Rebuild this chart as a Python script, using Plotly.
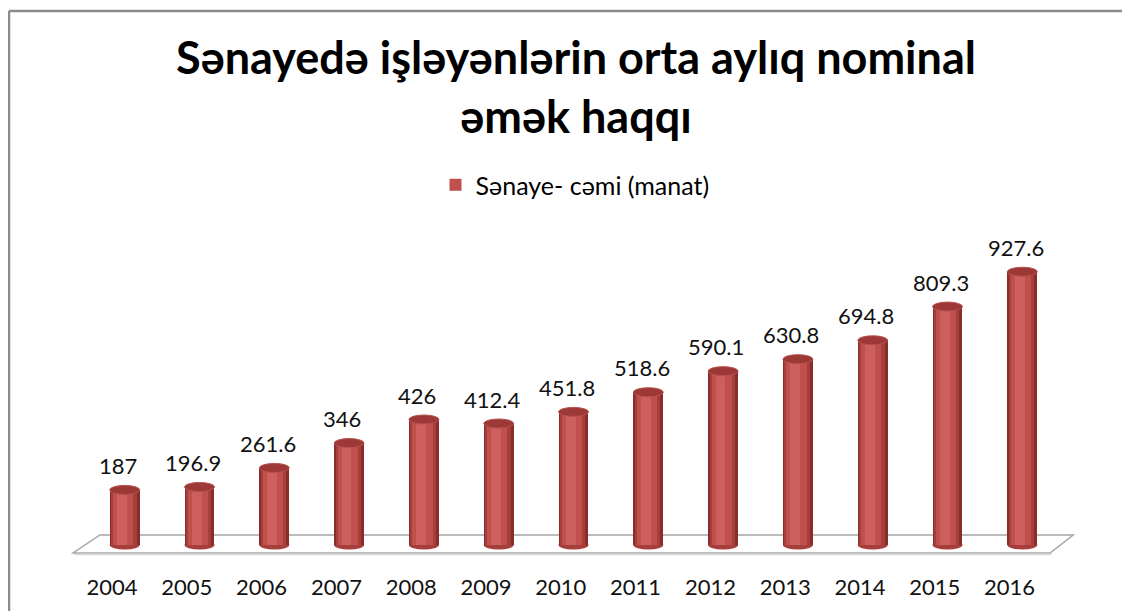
import plotly.graph_objects as go

# ---- data ----
years = ["2004", "2005", "2006", "2007", "2008", "2009", "2010",
         "2011", "2012", "2013", "2014", "2015", "2016"]
values = [187, 196.9, 261.6, 346, 426, 412.4, 451.8,
          518.6, 590.1, 630.8, 694.8, 809.3, 927.6]
value_labels = ["187", "196.9", "261.6", "346", "426", "412.4", "451.8",
                "518.6", "590.1", "630.8", "694.8", "809.3", "927.6"]
series_name = "Sənaye- cəmi (manat)"
title_text = "Sənayedə işləyənlərin orta aylıq nominal<br>əmək haqqı"

# ---- layout constants (screen pixels; page body adds an 8px offset) ----
W, H = 1130, 611
OFF = 8
PLOT_LEFT, PLOT_RIGHT, PLOT_TOP, PLOT_BOTTOM = 52, 1085, 220, 572
L = PLOT_LEFT - OFF
R = W - (PLOT_RIGHT - OFF)
T = PLOT_TOP - OFF
B = H - (PLOT_BOTTOM - OFF)
plot_w = PLOT_RIGHT - PLOT_LEFT
plot_h = PLOT_BOTTOM - PLOT_TOP
PX_X = 74.8          # px per category
PX_Y = 0.2946        # px per unit of value
X0_PX = 112          # screen pixel of first category
ZERO_PX = 545        # screen pixel of value zero

xmin = -(X0_PX - PLOT_LEFT) / PX_X
xmax = xmin + plot_w / PX_X
ymin = -(PLOT_BOTTOM - ZERO_PX) / PX_Y
ymax = (ZERO_PX - PLOT_TOP) / PX_Y

def px_to_paper_x(p):
    return (p - PLOT_LEFT) / plot_w

def px_to_paper_y(p):
    return (PLOT_BOTTOM - p) / plot_h

n = len(years)
idx = list(range(n))
BAR_OFF = 0.17       # 3D offset of cylinders
BAR_W = 0.40
xc = [i + BAR_OFF for i in idx]

FONT = "Lato"

fig = go.Figure()

# cylinder shading layers (outer dark -> inner light)
layers = [
    (BAR_W, 0.0, "#8a2c2a", False),
    (0.34, -0.01, "#a63e3b", False),
    (0.27, -0.02, "#c0504d", True),
    (0.13, -0.035, "#cd5f5c", False),
]
for w, dx, col, show in layers:
    fig.add_trace(go.Bar(
        x=[c + dx for c in xc], y=values, width=w,
        marker=dict(color=col, line=dict(width=0)),
        name=series_name, showlegend=show, legendgroup="s",
        hoverinfo="skip" if not show else None,
    ))

shapes = []
# floor (parallelogram)
fl_front = -8 / PX_Y
fl_back = 10 / PX_Y
fx0, fx1 = -0.52, n - 1 + 0.54
shapes.append(dict(
    type="path", xref="x", yref="y", layer="below",
    path=(f"M {fx0} {fl_front} L {fx1} {fl_front} "
          f"L {fx1 + 0.31} {fl_back} L {fx0 + 0.36} {fl_back} Z"),
    fillcolor="white", line=dict(color="#a6a6a6", width=1.5),
))
shapes.append(dict(
    type="line", xref="x", yref="y", layer="below",
    x0=fx0 + 0.02, x1=fx1 + 0.02, y0=fl_front - 1.5 / PX_Y, y1=fl_front - 1.5 / PX_Y,
    line=dict(color="#d9d9d9", width=1.5),
))

eh = 4.5 / PX_Y  # half height of ellipse in data units
for c, v in zip(xc, values):
    # rounded bottom
    shapes.append(dict(type="circle", xref="x", yref="y", layer="below",
                       x0=c - BAR_W / 2, x1=c + BAR_W / 2, y0=-eh, y1=eh,
                       fillcolor="#a63e3b", line=dict(width=0)))
    # top ellipse
    shapes.append(dict(type="circle", xref="x", yref="y", layer="above",
                       x0=c - BAR_W / 2, x1=c + BAR_W / 2, y0=v - eh, y1=v + eh,
                       fillcolor="#9c3936", line=dict(color="#b5514e", width=1)))

# outer border of the chart frame
bx = px_to_paper_x(9)
by = px_to_paper_y(11)
shapes.append(dict(type="line", xref="paper", yref="paper",
                   x0=bx, x1=bx, y0=by, y1=px_to_paper_y(H + 20),
                   line=dict(color="#8c8c8c", width=2.5)))
shapes.append(dict(type="line", xref="paper", yref="paper",
                   x0=bx, x1=px_to_paper_x(W + 20), y0=by, y1=by,
                   line=dict(color="#8c8c8c", width=2.5)))

annotations = []
for i, v, lab in zip(idx, values, value_labels):
    annotations.append(dict(
        x=i + 0.08, y=v, xref="x", yref="y", text=lab, showarrow=False,
        yanchor="bottom", yshift=9,
        font=dict(family=FONT, size=22, color="#111111"),
    ))

fig.update_layout(
    width=W, height=H,
    margin=dict(l=L, r=R, t=T, b=B, autoexpand=False),
    paper_bgcolor="white", plot_bgcolor="white",
    barmode="overlay", bargap=0,
    title=dict(text=title_text, x=(576 - OFF) / W, xanchor="center",
               y=1 - (74 - OFF) / H, yanchor="top", yref="container",
               font=dict(family=FONT, size=45, color="black", weight="bold")),
    legend=dict(orientation="h", x=px_to_paper_x(575), xanchor="center",
                y=px_to_paper_y(185), yanchor="middle",
                font=dict(family=FONT, size=25, color="black"),
                bgcolor="rgba(0,0,0,0)"),
    xaxis=dict(range=[xmin, xmax], tickmode="array", tickvals=idx, ticktext=years,
               showgrid=False, zeroline=False, showline=False, ticks="",
               automargin=False,
               tickfont=dict(family=FONT, size=22, color="#111111")),
    yaxis=dict(range=[ymin, ymax], visible=False, showgrid=False, zeroline=False),
    shapes=shapes,
    annotations=annotations,
    showlegend=True,
)

fig.write_html("out.html")
